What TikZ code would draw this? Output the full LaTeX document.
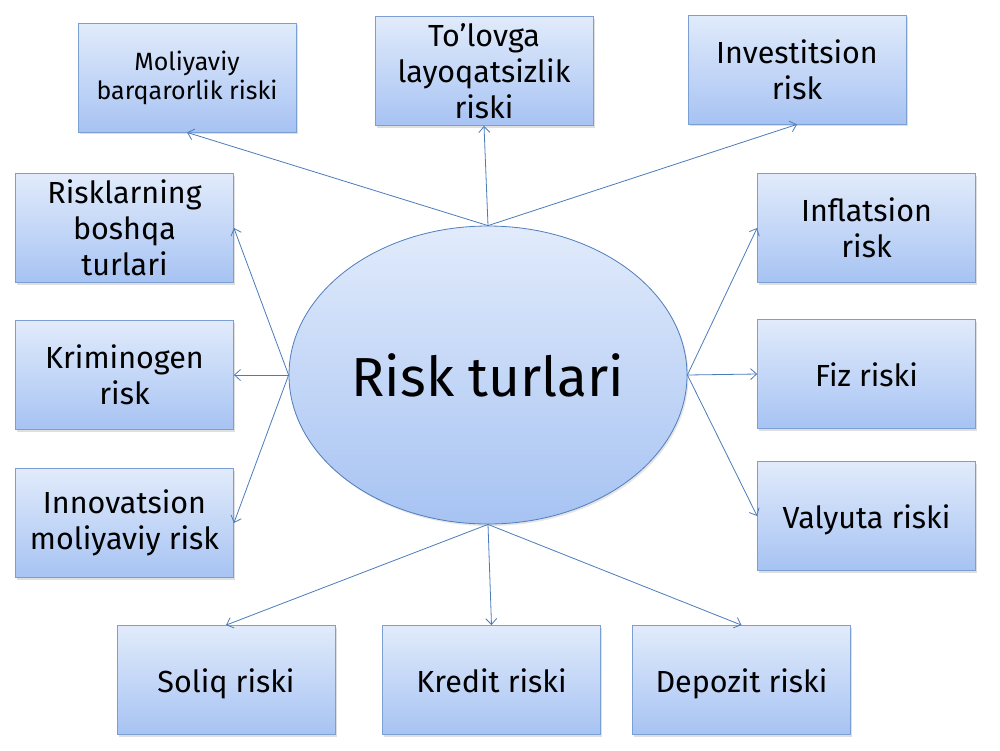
\documentclass[tikz,border=0pt]{standalone}
\usepackage{fontspec}
\setmainfont{Fira Sans}
\usetikzlibrary{arrows.meta,shapes.geometric,shadows}
\definecolor{boxtop}{HTML}{E1EBFB}
\definecolor{boxbot}{HTML}{A7C3F3}
\definecolor{boxline}{HTML}{7C9FD3}
\definecolor{elline}{HTML}{4F7DBD}
\definecolor{arrowcol}{HTML}{4A7CBB}
\tikzset{
  riskbox/.style={rectangle, draw=boxline, line width=0.8pt, top color=boxtop, bottom color=boxbot,
    minimum width=218pt, minimum height=109pt, inner sep=2pt, align=center, text=black,
    font=\fontsize{30.5}{36}\selectfont,
    drop shadow={shadow xshift=1.5pt, shadow yshift=-2pt, opacity=0.25}},
  oneline/.style={text height=28pt, text depth=4pt},
  centre/.style={ellipse, draw=elline, line width=0.8pt, top color=boxtop, bottom color=boxbot,
    minimum width=398pt, minimum height=298pt, inner sep=0pt, text=black,
    font=\fontsize{55}{62}\selectfont,
    drop shadow={shadow xshift=1.5pt, shadow yshift=-2pt, opacity=0.2}},
  link/.style={draw=arrowcol, line width=0.8pt, -{Straight Barb[length=6pt,width=11pt]}}
}
\begin{document}
\begin{tikzpicture}[x=1pt,y=-1pt]
\useasboundingbox[fill=white] (0,0) rectangle (1000,750);
\node[centre] (c) at (488,375) {Risk turlari};
\node[riskbox, font=\fontsize{25}{29}\selectfont] (mol) at (187,77.5) {Moliyaviy\\barqarorlik riski};
\node[riskbox] (tol) at (484,71) {To’lovga\\layoqatsizlik\\riski};
\node[riskbox] (inv) at (797,69.5) {Investitsion\\risk};
\node[riskbox] (rlb) at (124.5,228) {Risklarning\\boshqa\\turlari};
\node[riskbox] (inf) at (866.5,228) {Inflatsion\\risk};
\node[riskbox] (kri) at (124.5,375) {Kriminogen\\risk};
\node[riskbox, oneline] (fiz) at (866.5,374) {Fiz riski};
\node[riskbox] (inn) at (124.5,523) {Innovatsion\\moliyaviy risk};
\node[riskbox, oneline] (val) at (866.5,516) {Valyuta riski};
\node[riskbox, oneline] (sol) at (226,680) {Soliq riski};
\node[riskbox, oneline] (kre) at (491.5,680) {Kredit riski};
\node[riskbox, oneline] (dep) at (741.5,680) {Depozit riski};
\draw[link] (c.north) -- (mol.south);
\draw[link] (c.north) -- (tol.south);
\draw[link] (c.north) -- (inv.south);
\draw[link] (c.west) -- (rlb.east);
\draw[link] (c.west) -- (kri.east);
\draw[link] (c.west) -- (inn.east);
\draw[link] (c.east) -- (inf.west);
\draw[link] (c.east) -- (fiz.west);
\draw[link] (c.east) -- (val.west);
\draw[link] (c.south) -- (sol.north);
\draw[link] (c.south) -- (kre.north);
\draw[link] (c.south) -- (dep.north);
\end{tikzpicture}
\end{document}
